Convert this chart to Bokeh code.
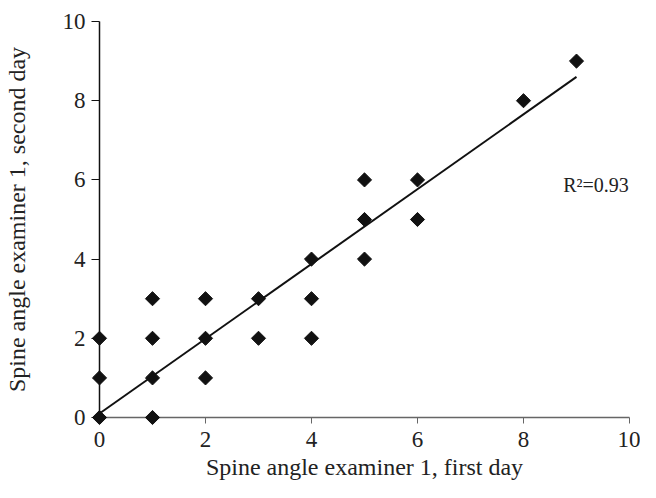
import math
from bokeh.plotting import figure
from bokeh.models import Range1d, FixedTicker, Label
from bokeh.embed import file_html
from bokeh.resources import INLINE

# --- data ---
day1 = [0, 0, 0, 1, 1, 1, 1, 2, 2, 2, 3, 3, 4, 4, 4, 5, 5, 5, 6, 6, 8, 9]
day2 = [0, 1, 2, 0, 1, 2, 3, 1, 2, 3, 2, 3, 2, 3, 4, 4, 5, 6, 5, 6, 8, 9]
fit_x = [0, 9]
fit_y = [0.1, 8.6]
x_ticks = [0, 2, 4, 6, 8, 10]
y_ticks = [0, 2, 4, 6, 8, 10]
r2_text = "R²=0.93"

FONT = "Liberation Serif"

p = figure(width=640, height=482, x_range=Range1d(0, 10), y_range=Range1d(0, 10),
           output_backend="svg", toolbar_location=None,
           min_border_left=96, min_border_right=11, min_border_top=21, min_border_bottom=64)
p.outline_line_color = None
p.xgrid.grid_line_color = None
p.ygrid.grid_line_color = None
p.background_fill_color = "white"
p.border_fill_color = "white"

for ax in (p.xaxis[0], p.yaxis[0]):
    ax.minor_tick_line_color = None
    ax.major_tick_in = 0
    ax.major_label_text_font = FONT
    ax.major_label_text_font_size = "23px"
    ax.major_label_text_color = "#222222"
    ax.axis_label_text_font = FONT
    ax.axis_label_text_font_style = "normal"
    ax.axis_label_text_color = "#222222"
    ax.axis_label_text_font_size = "24px"

p.xaxis.ticker = FixedTicker(ticks=x_ticks)
p.yaxis.ticker = FixedTicker(ticks=y_ticks)
p.xaxis.axis_label = "Spine angle examiner 1, first day"
p.yaxis.axis_label = "Spine angle examiner 1, second day"

p.xaxis.axis_line_color = "#666666"
p.xaxis.major_tick_line_color = "#666666"
p.xaxis.axis_line_width = 1.5
p.xaxis.major_tick_out = 6
p.xaxis.major_label_standoff = 8
p.xaxis.axis_label_standoff = 4

p.yaxis.axis_line_color = "#111111"
p.yaxis.major_tick_line_color = "#111111"
p.yaxis.axis_line_width = 1.5
p.yaxis.major_tick_out = 8
p.yaxis.major_label_standoff = 6
p.yaxis.axis_label_standoff = 30

p.line(fit_x, fit_y, line_color="#111111", line_width=2, level="overlay")
p.scatter(day1, day2, marker="square", size=10, angle=math.pi / 4,
          fill_color="#111111", line_color="#111111", level="overlay")

p.add_layout(Label(x=8.75, y=5.86, text=r2_text, text_font=FONT, text_font_size="20px",
                   text_color="#222222", text_baseline="alphabetic"))

open("out.html", "w").write(file_html(p, INLINE))
